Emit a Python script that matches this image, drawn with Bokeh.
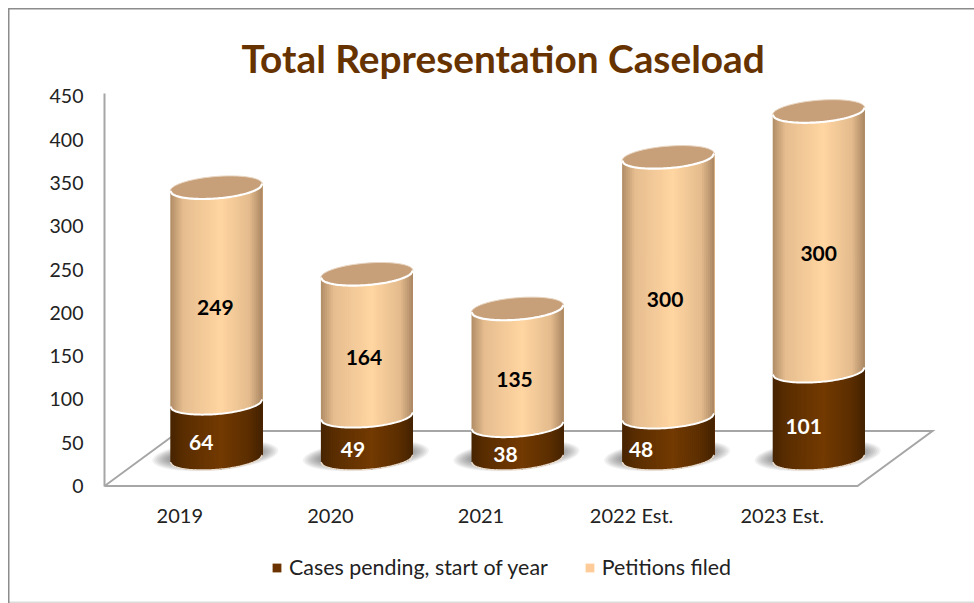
import numpy as np
from bokeh.embed import file_html
from bokeh.resources import INLINE
from bokeh.plotting import figure
from bokeh.models import ColumnDataSource, FixedTicker, Legend, LegendItem, Title
from bokeh.core.properties import value

# ---- chart data ----
categories = ["2019", "2020", "2021", "2022 Est.", "2023 Est."]
cases_pending = [64, 49, 38, 48, 101]
petitions_filed = [249, 164, 135, 300, 300]
y_ticks = [0, 50, 100, 150, 200, 250, 300, 350, 400, 450]
title_text = "Total Representation Caseload"
series_names = ["Cases pending, start of year", "Petitions filed"]

# ---- style ----
FONT = "Lato"
DARK = "#6B3300"
LIGHT = "#FFCC99"
TITLE_COL = "#663300"
GREY = "#a6a6a6"
dark_stops = ["#462400", "#5a2d00", "#733a02", "#5a2d00", "#432200"]
light_stops = ["#b08c66", "#e6bd8f", "#ffd5a1", "#e3bb8d", "#a98662"]
stop_pos = [-1.0, -0.72, 0.1, 0.72, 1.0]
pending_dx = [-15, -14, -12, -27, -15]   # label nudges, px
petition_dx = [-1, -3, -3, -3, 0]
LABEL_DY = 12

# geometry of the 3D box
W, H = 974, 603
BL, BT, BR, BB = 104, 90, 0, 3
PX_X = 150.6
PX_Y = 0.866
x0 = -0.5
x1 = x0 + (W - BL - BR) / PX_X
ybot = -114.5 / PX_Y
ytop = ybot + (H - BT - BB) / PX_Y
DEPTH_X = 75 / PX_X    # floor depth in x units
DEPTH_Y = 55 / PX_Y    # floor depth in y units
A = 46 / PX_X          # cylinder half width
B = 11.0 / PX_Y        # ellipse half height
K = (3.5 / 45.5) * (1 / PX_Y) * PX_X  # skew (y units per x unit)


def hex2rgb(h):
    return [int(h[i:i + 2], 16) for i in (1, 3, 5)]


def ramp(stops, t):
    rgb = [np.interp(t, stop_pos, [hex2rgb(s)[c] for s in stops]) for c in range(3)]
    return "#%02x%02x%02x" % tuple(int(round(v)) for v in rgb)


def front(cy, u):
    """y of the front arc, u in [-1,1] across the width"""
    return cy + K * A * u - B * np.sqrt(np.clip(1 - u * u, 0, 1))


def ellipse(cx, cy, a, b, n=80):
    t = np.linspace(0, 2 * np.pi, n, endpoint=False)
    u = np.cos(t)
    return list(cx + a * u), list(cy + K * a * u + b * np.sin(t))


p = figure(width=W, height=H, x_range=(x0, x1), y_range=(ybot, ytop),
           output_backend="svg", toolbar_location=None, tools="",
           min_border_left=BL, min_border_top=BT, min_border_right=BR, min_border_bottom=BB,
           background_fill_color=None, border_fill_color=None, outline_line_color=None)
p.styles = {"box-shadow": "inset 8px 8px 0 0 #fff, inset 9.5px 9.5px 0 0 #8c8c8c, "
                          "inset 0 -1.5px 0 0 #dcdcdc"}

p.grid.visible = False
p.title = Title(text=title_text, text_font=FONT, text_font_size="38.8px", text_font_style="bold",
                text_color=TITLE_COL, align="left", offset=137, standoff=19)

# axes
ya = p.yaxis[0]
ya.ticker = FixedTicker(ticks=y_ticks)
ya.bounds = (0, max(y_ticks) + 3)
ya.axis_line_color = GREY
ya.axis_line_width = 2
ya.major_tick_line_color = None
ya.minor_tick_line_color = None
ya.major_label_standoff = 15
ya.major_label_text_font = FONT
ya.major_label_text_font_size = "19.5px"
ya.major_label_text_color = "#222222"

xa = p.xaxis[0]
xa.ticker = FixedTicker(ticks=list(range(len(categories))))
xa.major_label_overrides = {i: c for i, c in enumerate(categories)}
xa.fixed_location = -4.5 / PX_Y
xa.axis_line_color = None
xa.major_tick_line_color = None
xa.minor_tick_line_color = None
xa.major_label_standoff = 6
xa.major_label_text_font = FONT
xa.major_label_text_font_size = "20px"
xa.major_label_text_color = "#222222"

# floor
n = len(categories)
fl_x = [x0, x0 + n, x0 + n + DEPTH_X, x0 + DEPTH_X]
fl_y = [0, 0, DEPTH_Y, DEPTH_Y]
p.patch(fl_x, fl_y, fill_color="#ffffff", line_color=GREY, line_width=2, line_join="miter")

# cylinders
base_dx, base_dy = DEPTH_X / 2 - 1 / PX_X, DEPTH_Y / 2
centers = [i + base_dx for i in range(n)]

# blurred shadows
sx, sy, sa = [], [], []
for cx in centers:
    for k in range(9):
        f = 1 - k / 9
        ex, ey = ellipse(cx - 1 / PX_X, base_dy + 3 / PX_Y, (46 + 17 * f) / PX_X, (7 + 8 * f) / PX_Y)
        sx.append(ex); sy.append(ey); sa.append(0.07)
p.patches(sx, sy, fill_color="#4a4a4a", fill_alpha=sa, line_color=None)

N = 46
us = np.linspace(-1, 1, N + 1)


def strips(lo, hi, stops):
    # each strip runs on to the right edge, so that later strips paint over it with no seams
    xs, ys, cs = [], [], []
    for cx, a, b in zip(centers, lo, hi):
        for j in range(N):
            u = us[j:]
            xs.append(list(cx + A * u) + list(cx + A * u[::-1]))
            ys.append(list(front(a + base_dy, u)) + list(front(b + base_dy, u[::-1])))
            cs.append(ramp(stops, (us[j] + us[j + 1]) / 2))
    return xs, ys, cs


zeros = [0] * n
tops1 = list(cases_pending)
tops2 = [a + b for a, b in zip(cases_pending, petitions_filed)]

for lo, hi, stops in ((zeros, tops1, dark_stops), (tops1, tops2, light_stops)):
    xs, ys, cs = strips(lo, hi, stops)
    p.patches(xs, ys, fill_color=cs, line_color=None)

# caps
cap_x, cap_y = [], []
for cx, t in zip(centers, tops2):
    ex, ey = ellipse(cx, t + base_dy, A, B)
    cap_x.append(ex); cap_y.append(ey)
p.patches(cap_x, cap_y, fill_color="#c7a07a", line_color="#e9d6c2", line_width=1)

# pale arcs
arc_u = np.linspace(-1, 1, 50)
for vals, lw, col in ((zeros, 1.5, "#e8dccf"), (tops1, 2, "#ffffff"), (tops2, 2.2, "#ffffff")):
    ax, ay = [], []
    for cx, v in zip(centers, vals):
        ax.append(list(cx + A * arc_u))
        ay.append(list(front(v + base_dy, arc_u)))
    p.multi_line(ax, ay, line_color=col, line_width=lw)

# value labels
dark_src = ColumnDataSource(dict(
    x=centers, y=[v / 2 + base_dy for v in cases_pending],
    t=[str(v) for v in cases_pending], dx=pending_dx))
light_src = ColumnDataSource(dict(
    x=centers, y=[a + b / 2 + base_dy for a, b in zip(cases_pending, petitions_filed)],
    t=[str(v) for v in petitions_filed], dx=petition_dx))
for src, col in ((dark_src, "#ffffff"), (light_src, "#000000")):
    p.text("x", "y", text="t", source=src, x_offset="dx", y_offset=LABEL_DY,
           text_font=value(FONT), text_font_size="21px", text_font_style="bold",
           text_color=col, text_align="center", text_baseline="middle")

# legend (keys only: the bars themselves have no position on the plot)
nan = float("nan")
r1 = p.vbar(x=[nan], top=[nan], width=0.1, fill_color=DARK, line_color=None)
r2 = p.vbar(x=[nan], top=[nan], width=0.1, fill_color=LIGHT, line_color=None)
legend = Legend(items=[LegendItem(label=series_names[0], renderers=[r1], index=0),
                       LegendItem(label=series_names[1], renderers=[r2], index=0)],
                orientation="horizontal", location=(167, 20), border_line_color=None,
                background_fill_alpha=0, padding=0, margin=0, spacing=36,
                glyph_width=11, glyph_height=11, label_standoff=7,
                label_text_font=FONT, label_text_font_size="21.4px", label_text_color="#222222")
p.add_layout(legend, "center")

open("out.html", "w").write(file_html(p, INLINE))
